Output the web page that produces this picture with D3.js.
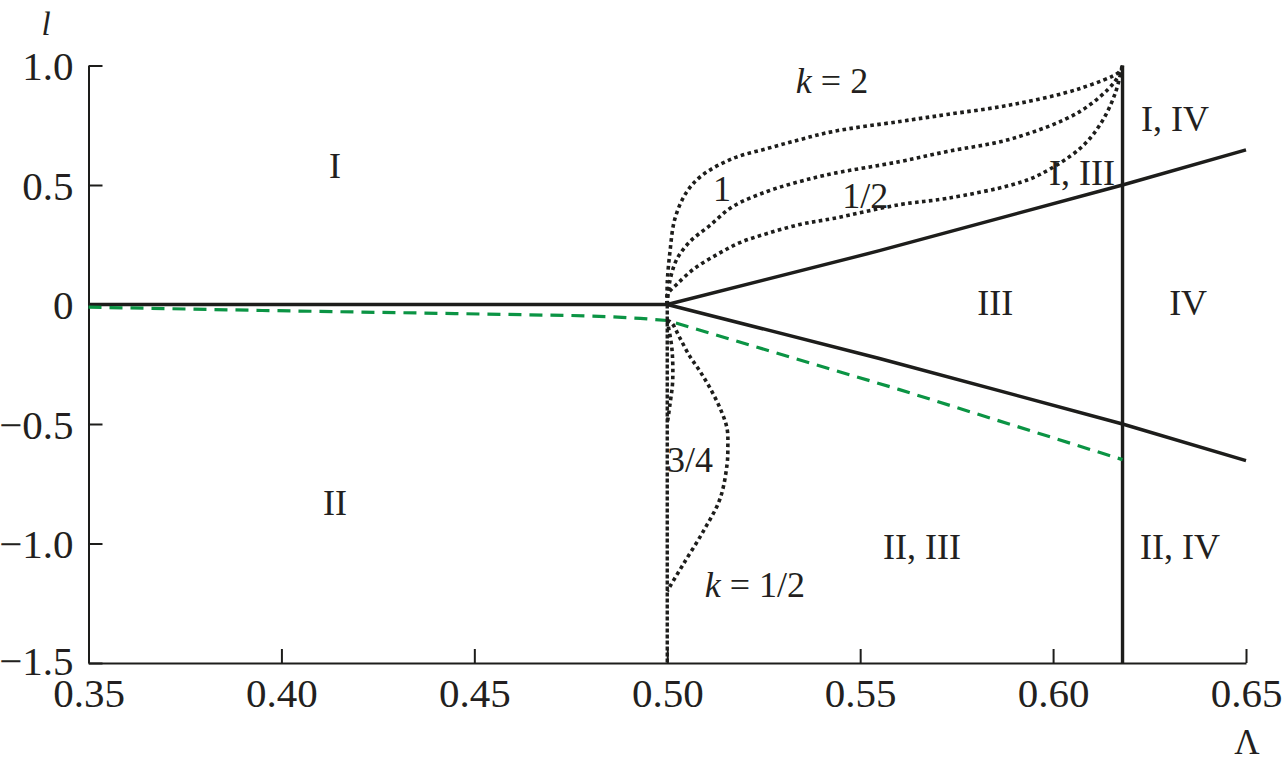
<!DOCTYPE html>
<html><head><meta charset="utf-8">
<script src="https://cdn.jsdelivr.net/npm/d3@7"></script>
<style>
html,body{margin:0;padding:0;background:#fff;}
svg, svg text{font-family:"Liberation Serif","DejaVu Serif",serif !important;}
svg text{fill:#231f20;}
</style></head>
<body>
<svg id="chart" width="1284" height="762" font-family="Liberation Serif"></svg>
<script>
// ---- data ----
const lambdaTicks = [0.35,0.40,0.45,0.50,0.55,0.60,0.65];
const lambdaTickLabels = ["0.35","0.40","0.45","0.50","0.55","0.60","0.65"];
const lTicks = [1.0,0.5,0,-0.5,-1.0,-1.5];
const lTickLabels = ["1.0","0.5","0","\u22120.5","\u22121.0","\u22121.5"];
const lambdaStar = 0.618;

const zeroLambda = [0.35,0.5];
const zeroL = [0,0];
const upperLambda = [0.5,0.555,0.618,0.65];
const upperL = [0,0.225,0.5,0.647];
const lowerLambda = [0.5,0.555,0.618,0.65];
const lowerL = [0,-0.226,-0.5,-0.653];

const greenLambda = [0.35,0.395,0.445,0.475,0.485,0.493,0.5,0.56,0.618];
const greenL = [-0.011,-0.025,-0.038,-0.046,-0.051,-0.058,-0.067,-0.355,-0.649];

const k2Lambda = [0.5,0.5,0.5007,0.502,0.505,0.509,0.517,0.526,0.5344,0.543,0.5603,0.5725,0.5896,0.607,0.6173,0.618];
const k2L = [0,0.09,0.22,0.36,0.47,0.54,0.611,0.653,0.69,0.724,0.766,0.795,0.837,0.904,0.975,1.0];
const k1Lambda = [0.5,0.5007,0.5025,0.506,0.511,0.517,0.5259,0.5344,0.543,0.5603,0.5725,0.5896,0.607,0.616,0.618];
const k1L = [0,0.1,0.19,0.265,0.33,0.41,0.473,0.515,0.548,0.598,0.64,0.695,0.808,0.933,1.0];
const kHalfUpLambda = [0.5,0.5,0.5025,0.507,0.513,0.519,0.5259,0.5344,0.543,0.5603,0.5725,0.5896,0.5966,0.607,0.6122,0.616,0.618];
const kHalfUpL = [0,0.04,0.085,0.15,0.21,0.26,0.297,0.335,0.36,0.418,0.444,0.502,0.544,0.653,0.753,0.879,1.0];

const kHalfLowLambda = [0.5,0.5012,0.5033,0.5059,0.5085,0.5111,0.5137,0.5155,0.5157,0.5155,0.5137,0.5093,0.5041,0.5007,0.5];
const kHalfLowL = [-0.065,-0.078,-0.141,-0.218,-0.28,-0.35,-0.434,-0.519,-0.6,-0.669,-0.812,-0.95,-1.088,-1.18,-1.2];
const k34Lambda = [0.5,0.5002,0.5012,0.5014,0.5007,0.5];
const k34L = [-0.065,-0.084,-0.183,-0.322,-0.418,-0.5];
const vertLambda = [0.5,0.5];
const vertL = [0,-1.5];
const starLambda = [lambdaStar,lambdaStar];
const starL = [-1.5,1.0];

const regionLabels = [
  {t:"I", x:0.4139, y:0.531},
  {t:"II", x:0.4139, y:-0.879},
  {t:"1", x:0.5142, y:0.431},
  {t:"1/2", x:0.5513, y:0.402},
  {t:"I, III", x:0.6075, y:0.502},
  {t:"I, IV", x:0.6316, y:0.728},
  {t:"III", x:0.585, y:-0.042},
  {t:"IV", x:0.635, y:-0.042},
  {t:"3/4", x:0.5059, y:-0.699},
  {t:"II, III", x:0.566, y:-1.063},
  {t:"II, IV", x:0.6329, y:-1.063}
];

// ---- layout ----
const FONT = '"Liberation Serif","DejaVu Serif",serif';
const svg = d3.select("#chart");
const x = d3.scaleLinear().domain([0.35,0.65]).range([88.5,1246]);
const y = d3.scaleLinear().domain([-1.5,1.0]).range([663,65.5]);

const ink = "#1d1d1b";
const green = "#0b9444";

function pts(a,b){ return a.map((v,i)=>[v,b[i]]); }
const lineLin = d3.line().x(d=>x(d[0])).y(d=>y(d[1]));
const lineSmooth = d3.line().x(d=>x(d[0])).y(d=>y(d[1])).curve(d3.curveCatmullRom.alpha(0.5));

// axes
const xAxis = d3.axisBottom(x).tickValues(lambdaTicks)
  .tickFormat((d,i)=>lambdaTickLabels[i]).tickSizeInner(-14).tickSizeOuter(0).tickPadding(15);
const yAxis = d3.axisLeft(y).tickValues(lTicks)
  .tickFormat((d,i)=>lTickLabels[i]).tickSizeInner(-14).tickSizeOuter(0).tickPadding(15);

const gx = svg.append("g").attr("transform","translate(0,663)").call(xAxis);
const gy = svg.append("g").attr("transform","translate(88.5,0)").call(yAxis);
[gx,gy].forEach(g=>{
  g.attr("font-family",FONT).attr("font-size",41);
  g.select(".domain").attr("stroke",ink).attr("stroke-width",2);
  g.selectAll(".tick line").attr("stroke",ink).attr("stroke-width",2);
  g.selectAll(".tick text").attr("fill","#231f20")
    .style("font-family",FONT).style("font-size","41px");
});
gx.selectAll(".tick").filter(d=>d===0.35).select("line").remove();
gy.selectAll(".tick text").attr("dy","0.35em");
gy.selectAll(".tick").filter(d=>d===-1.5).select("text").attr("dy","0.28em");

// axis titles
svg.append("text").attr("x",46).attr("y",35).attr("text-anchor","middle")
  .style("font-family",FONT).style("font-size","33px").style("font-style","italic").text("l");
svg.append("text").attr("x",1247).attr("y",754).attr("text-anchor","middle")
  .style("font-family",FONT).style("font-size","35px").text("\u039B");

// solid lines
const solids = [pts(zeroLambda,zeroL), pts(upperLambda,upperL), pts(lowerLambda,lowerL), pts(starLambda,starL)];
svg.append("g").selectAll("path").data(solids).join("path")
  .attr("d",lineLin).attr("fill","none").attr("stroke",ink).attr("stroke-width",3.4);

// green dashed
svg.append("path").datum(pts(greenLambda,greenL)).attr("d",lineLin)
  .attr("fill","none").attr("stroke",green).attr("stroke-width",3.2)
  .attr("stroke-dasharray","13,8");

// dotted curves
const dotted = [pts(k2Lambda,k2L), pts(k1Lambda,k1L), pts(kHalfUpLambda,kHalfUpL),
  pts(kHalfLowLambda,kHalfLowL), pts(k34Lambda,k34L)];
svg.append("g").selectAll("path").data(dotted).join("path")
  .attr("d",lineSmooth).attr("fill","none").attr("stroke",ink).attr("stroke-width",3.6)
  .attr("stroke-dasharray","3.6,3.4");
svg.append("path").datum(pts(vertLambda,vertL)).attr("d",lineLin)
  .attr("fill","none").attr("stroke",ink).attr("stroke-width",3.4)
  .attr("stroke-dasharray","4,2");

// labels
const lab = svg.append("g");
regionLabels.forEach(r=>{
  lab.append("text").attr("x",x(r.x)).attr("y",y(r.y)).attr("text-anchor","middle")
    .style("font-family",FONT).style("font-size","36px").text(r.t);
});
function kLabel(lx,ly,val){
  const t = lab.append("text").attr("x",x(lx)).attr("y",y(ly)).attr("text-anchor","middle")
    .style("font-family",FONT).style("font-size","36px");
  t.append("tspan").style("font-style","italic").text("k");
  t.append("tspan").text(" = "+val);
}
kLabel(0.5427,0.883,"2");
kLabel(0.5227,-1.222,"1/2");
</script>
</body></html>
